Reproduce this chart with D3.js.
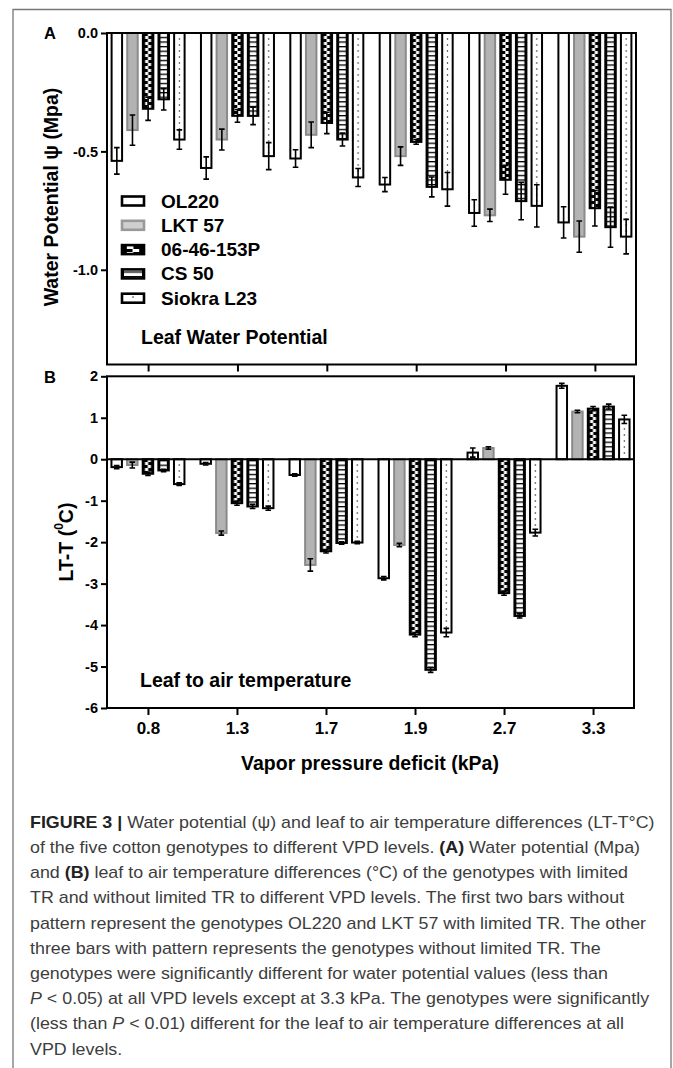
<!DOCTYPE html>
<html>
<head>
<meta charset="utf-8">
<script src="https://cdn.jsdelivr.net/npm/d3@7"></script>
<style>
  body { margin: 0; background: #fff; }
  text { font-family: "Liberation Sans", Arial, sans-serif; }
</style>
</head>
<body>
<script>
// ---- data ----
var vpd = ["0.8", "1.3", "1.7", "1.9", "2.7", "3.3"];
var genotypes = ["OL220", "LKT 57", "06-46-153P", "CS 50", "Siokra L23"];

// panel A: leaf water potential (MPa), mean and SE per VPD level
var wpOL220  = [-0.54, -0.57, -0.53, -0.64, -0.76, -0.80];
var wpLKT57  = [-0.41, -0.45, -0.43, -0.52, -0.77, -0.86];
var wp0646   = [-0.32, -0.35, -0.38, -0.46, -0.62, -0.74];
var wpCS50   = [-0.28, -0.35, -0.45, -0.65, -0.71, -0.82];
var wpSiokra = [-0.45, -0.52, -0.61, -0.66, -0.73, -0.86];
var wpSeOL220  = [0.056, 0.047, 0.037, 0.030, 0.056, 0.066];
var wpSeLKT57  = [0.064, 0.044, 0.054, 0.039, 0.026, 0.066];
var wpSe0646   = [0.049, 0.027, 0.045, 0.010, 0.061, 0.075];
var wpSeCS50   = [0.045, 0.037, 0.027, 0.042, 0.079, 0.085];
var wpSeSiokra = [0.041, 0.057, 0.038, 0.071, 0.089, 0.073];

// panel B: leaf to air temperature difference (C)
var ltOL220  = [-0.19, -0.11, -0.38, -2.87, 0.16, 1.77];
var ltLKT57  = [-0.14, -1.78, -2.55, -2.07, 0.27, 1.15];
var lt0646   = [-0.35, -1.06, -2.22, -4.23, -3.23, 1.22];
var ltCS50   = [-0.27, -1.14, -2.02, -5.08, -3.78, 1.27];
var ltSiokra = [-0.60, -1.18, -2.01, -4.18, -1.77, 0.96];
var ltSeOL220  = [0.04, 0.03, 0.03, 0.04, 0.11, 0.06];
var ltSeLKT57  = [0.07, 0.05, 0.15, 0.04, 0.03, 0.03];
var ltSe0646   = [0.04, 0.05, 0.04, 0.05, 0.05, 0.05];
var ltSeCS50   = [0.03, 0.05, 0.03, 0.06, 0.05, 0.06];
var ltSeSiokra = [0.03, 0.05, 0.03, 0.10, 0.08, 0.10];

var wpTicks = [0, -0.5, -1.0];
var ltTicks = [2, 1, 0, -1, -2, -3, -4, -5, -6];

var captionLines = [
  "**FIGURE 3 |** Water potential (\u03C8) and leaf to air temperature differences (LT-T\u00B0C)",
  "of the five cotton genotypes to different VPD levels. **(A)** Water potential (Mpa)",
  "and **(B)** leaf to air temperature differences (\u00B0C) of the genotypes with limited",
  "TR and without limited TR to different VPD levels. The first two bars without",
  "pattern represent the genotypes OL220 and LKT 57 with limited TR. The other",
  "three bars with pattern represents the genotypes without limited TR. The",
  "genotypes were significantly different for water potential values (less than",
  "*P* < 0.05) at all VPD levels except at 3.3 kPa. The genotypes were significantly",
  "(less than *P* < 0.01) different for the leaf to air temperature differences at all",
  "VPD levels."
];

var wpMeans = [wpOL220, wpLKT57, wp0646, wpCS50, wpSiokra];
var wpSes = [wpSeOL220, wpSeLKT57, wpSe0646, wpSeCS50, wpSeSiokra];
var ltMeans = [ltOL220, ltLKT57, lt0646, ltCS50, ltSiokra];
var ltSes = [ltSeOL220, ltSeLKT57, ltSe0646, ltSeCS50, ltSeSiokra];

// ---- svg ----
var width = 673, height = 1068;
var svg = d3.select('body').append('svg')
  .attr('width', width).attr('height', height);
svg.append('rect').attr('width', width).attr('height', height).style('fill', '#fff');

// outer figure frame
svg.append('path')
  .attr('d', 'M13,1070 V9.5 H671 V1070')
  .style('fill', 'none').style('stroke', '#777').style('stroke-width', 1.3);

var defs = svg.append('defs');
var patCount = 0;

// style of each genotype: plain white, grey, checker, ladder, dotted
var kinds = ['plain', 'grey', 'check', 'ladder', 'dots'];

function makePattern(kind, x0, w) {
  var id = 'pat' + (patCount++);
  var p = defs.append('pattern')
    .attr('id', id).attr('patternUnits', 'userSpaceOnUse')
    .attr('x', x0).attr('y', 0).attr('width', w);
  if (kind === 'check') {
    p.attr('height', 6);
    p.append('rect').attr('width', w).attr('height', 6).style('fill', '#000');
    p.append('rect').attr('x', w * 0.22).attr('y', 0).attr('width', w * 0.3).attr('height', 3).style('fill', '#fff');
    p.append('rect').attr('x', w * 0.48).attr('y', 3).attr('width', w * 0.3).attr('height', 3).style('fill', '#fff');
  } else if (kind === 'ladder') {
    p.attr('height', 4.6);
    p.append('rect').attr('width', w).attr('height', 4.6).style('fill', '#000');
    p.append('rect').attr('x', 2).attr('y', 1.3).attr('width', w - 4).attr('height', 3.3).style('fill', '#fff');
  } else if (kind === 'dots') {
    p.attr('height', 6);
    p.append('rect').attr('width', w).attr('height', 6).style('fill', '#fff');
    p.append('rect').attr('x', w / 2 - 0.6).attr('y', 2.4).attr('width', 1.2).attr('height', 1.2).style('fill', '#000');
  }
  return 'url(#' + id + ')';
}

function fillFor(kind, x0, w) {
  if (kind === 'plain') return '#fff';
  if (kind === 'grey') return '#b3b3b3';
  return makePattern(kind, x0, w);
}
function strokeFor(kind) { return kind === 'grey' ? '#8a8a8a' : '#000'; }

var inner = d3.scaleBand().domain(genotypes).range([-36.5, 36.5]).paddingInner(0.33);

function drawPanel(opt) {
  var g = svg.append('g');
  var x = d3.scalePoint().domain(vpd).range([opt.left, opt.right]).padding(0.46);
  var y = d3.scaleLinear().domain(opt.domain).range([opt.bottom, opt.top]);

  var rows = [];
  genotypes.forEach(function(name, s) {
    vpd.forEach(function(v, i) {
      rows.push({s: s, name: name, vpd: v, mean: opt.means[s][i], se: opt.ses[s][i]});
    });
  });

  var bw = inner.bandwidth();
  rows.forEach(function(d) {
    var bx = x(d.vpd) + inner(d.name);
    var kind = kinds[d.s];
    g.append('rect')
      .attr('x', bx).attr('width', bw)
      .attr('y', Math.min(y(d.mean), y(0)))
      .attr('height', Math.abs(y(d.mean) - y(0)))
      .style('fill', fillFor(kind, bx, bw))
      .style('stroke', strokeFor(kind))
      .style('stroke-width', 2);
  });

  // error bars
  rows.forEach(function(d) {
    var cx = x(d.vpd) + inner(d.name) + bw / 2;
    var y1 = y(d.mean - d.se), y2 = y(d.mean + d.se);
    g.append('path')
      .attr('d', 'M' + cx + ',' + y1 + 'V' + y2 +
        'M' + (cx - 2.8) + ',' + y1 + 'H' + (cx + 2.8) +
        'M' + (cx - 2.8) + ',' + y2 + 'H' + (cx + 2.8))
      .style('fill', 'none').style('stroke', '#000').style('stroke-width', 1.6);
  });

  // zero line
  g.append('line')
    .attr('x1', opt.left).attr('x2', opt.right)
    .attr('y1', y(0)).attr('y2', y(0))
    .style('stroke', '#000').style('stroke-width', 2);

  // frame
  g.append('rect')
    .attr('x', opt.left).attr('y', opt.top)
    .attr('width', opt.right - opt.left).attr('height', opt.bottom - opt.top)
    .style('fill', 'none').style('stroke', '#000').style('stroke-width', 2);

  var yAxis = g.append('g')
    .attr('transform', 'translate(' + opt.left + ',0)')
    .call(d3.axisLeft(y).tickValues(opt.ticks).tickSize(6).tickSizeOuter(0).tickFormat(opt.fmt));
  yAxis.select('.domain').remove();
  yAxis.selectAll('line').style('stroke', '#000').style('stroke-width', 2);
  yAxis.selectAll('text')
    .style('font-family', '"Liberation Sans", Arial, sans-serif')
    .style('font-size', '14.5px').style('font-weight', 'bold').style('fill', '#000');

  var xAxis = g.append('g')
    .attr('transform', 'translate(0,' + opt.bottom + ')')
    .call(d3.axisBottom(x).tickSize(7).tickSizeOuter(0).tickPadding(7)
      .tickFormat(opt.showX ? null : function() { return ''; }));
  xAxis.select('.domain').remove();
  xAxis.selectAll('line').style('stroke', '#000').style('stroke-width', 2);
  xAxis.selectAll('text')
    .style('font-family', '"Liberation Sans", Arial, sans-serif')
    .style('font-size', '17px').style('font-weight', 'bold').style('fill', '#000');

  return {x: x, y: y};
}

drawPanel({
  left: 107, right: 636, top: 33, bottom: 364.5,
  domain: [-1.4, 0], ticks: wpTicks,
  fmt: function(d) { return d.toFixed(1); },
  means: wpMeans, ses: wpSes, showX: false
});

drawPanel({
  left: 107, right: 634, top: 376.3, bottom: 708,
  domain: [-6, 2], ticks: ltTicks,
  fmt: function(d) { return String(d); },
  means: ltMeans, ses: ltSes, showX: true
});

function boldText(x, y, str, size, anchor) {
  return svg.append('text')
    .attr('x', x).attr('y', y)
    .attr('dominant-baseline', 'central')
    .attr('text-anchor', anchor || 'start')
    .style('font-size', size + 'px').style('font-weight', 'bold')
    .text(str);
}

// panel letters
boldText(50, 33, 'A', 16.5, 'middle');
boldText(50, 377, 'B', 16.5, 'middle');

// y titles
svg.append('text')
  .attr('transform', 'translate(51,197) rotate(-90)')
  .attr('text-anchor', 'middle').attr('dominant-baseline', 'central')
  .style('font-size', '19.5px').style('font-weight', 'bold')
  .text('Water Potential \u03C8 (Mpa)');

var ltTitle = svg.append('text')
  .attr('transform', 'translate(66,542) rotate(-90)')
  .attr('text-anchor', 'middle').attr('dominant-baseline', 'central')
  .style('font-size', '19.5px').style('font-weight', 'bold');
ltTitle.append('tspan').text('LT-T (');
ltTitle.append('tspan').attr('dy', -7).style('font-size', '12px').text('0');
ltTitle.append('tspan').attr('dy', 7).text('C)');

// annotations
boldText(141, 337, 'Leaf Water Potential', 19.5);
boldText(140, 680, 'Leaf to air temperature', 19.5);
boldText(370, 763, 'Vapor pressure deficit (kPa)', 19.5, 'middle');

// legend
var legend = svg.append('g');
genotypes.forEach(function(name, s) {
  var ly = 201 + s * 24.3;
  var kind = kinds[s];
  legend.append('rect')
    .attr('x', 122).attr('y', ly - 4.5).attr('width', 22).attr('height', 9)
    .style('fill', kind === 'grey' ? '#cfcfcf' : fillFor(kind, 122, 22))
    .style('stroke', kind === 'grey' ? '#999' : '#000')
    .style('stroke-width', 2.6);
  legend.append('text')
    .attr('x', 161).attr('y', ly)
    .attr('dominant-baseline', 'central')
    .style('font-size', '19px').style('font-weight', 'bold')
    .text(name);
});

// caption: condensed look by squeezing Liberation Sans horizontally
var cap = svg.append('g').style('fill', '#3d3d3d');
var capNodes = captionLines.map(function(line, i) {
  var t = cap.append('text')
    .attr('x', 0).attr('y', 822 + i * 25.2)
    .attr('dominant-baseline', 'central')
    .style('font-family', '"Liberation Sans", Arial, sans-serif')
    .style('font-size', '17px');
  line.split(/(\*\*[^*]+\*\*|\*[^*]+\*)/).forEach(function(part) {
    if (!part) return;
    var ts = t.append('tspan');
    if (part.indexOf('**') === 0) {
      ts.style('font-weight', 'bold').style('fill', '#222').text(part.slice(2, -2));
    } else if (part.indexOf('*') === 0) {
      ts.style('font-style', 'italic').text(part.slice(1, -1));
    } else {
      ts.text(part);
    }
  });
  return t;
});
// fit the first line to its width in the figure (x 30 .. 655)
var w0 = capNodes[0].node().getComputedTextLength();
cap.attr('transform', 'translate(30,0) scale(' + (625 / w0) + ',1)');
</script>
</body>
</html>
